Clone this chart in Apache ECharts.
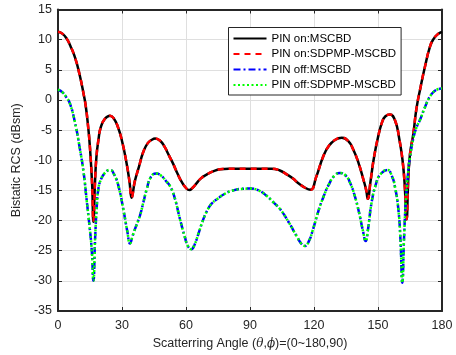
<!DOCTYPE html>
<html><head><meta charset="utf-8">
<script src="https://cdn.jsdelivr.net/npm/echarts@6/dist/echarts.min.js"></script>
<style>html,body{margin:0;padding:0;background:#fff}#c{width:456px;height:355px}</style>
</head><body><div id="c"></div>
<script>
// ---- data ----
const xTicks = [0, 30, 60, 90, 120, 150, 180];
const yTicks = [-35, -30, -25, -20, -15, -10, -5, 0, 5, 10, 15];

const onAngles = [0,2,4,6,8,10,12,13,14,15,16,16.6,17.3,18,19,20,22,24.4,26,28,30,32,33.5,34.5,36,38,40,42,44,45.5,48,50,52,54,56,58,60,61.6,63,65,67,70,73,76,80,90,100,104,107,110,113,116,118.4,121,124.4,127,130,133,136,138.5,141,143,144.5,145.2,146.5,148,150,152,153.5,155.6,158,160,161.5,162.5,163.4,164.2,165,166.6,168,170,172,174.4,176,178,180];
const pinOnMSCBD = [11.3,11.0,10.2,8.8,7.0,4.4,1.0,-1.0,-4.0,-8.0,-14,-20.2,-14,-9.5,-6.5,-4.6,-3.1,-2.6,-3.0,-4.4,-6.8,-10.2,-13.5,-16.2,-13.5,-11.0,-8.6,-7.2,-6.6,-6.4,-6.8,-7.8,-9.2,-10.6,-12.2,-13.6,-14.6,-14.95,-14.6,-13.8,-13.0,-12.3,-11.8,-11.5,-11.4,-11.4,-11.4,-11.7,-12.3,-13.0,-13.9,-14.6,-14.9,-12.8,-9.3,-7.6,-6.6,-6.25,-6.8,-8.3,-10.6,-13.0,-15.0,-16.4,-13.5,-9.8,-6.2,-3.6,-2.7,-2.4,-3.4,-6.5,-10,-14,-19.8,-13,-9,-5.5,-1.5,2.2,5.5,8.9,10.1,10.9,11.3];
const pinOnSDPMP = pinOnMSCBD.slice();

const offAngles = [0,2,4,5.6,8,10.3,12,13.4,14.8,15.8,16.6,17.4,18.2,18.9,20,22,24.4,26.5,28.5,30.6,32.5,33.75,35,36.5,38.4,40,41.6,43.5,46,48.5,50.5,52.5,54.5,57.2,59.5,61,62.5,64,66,68.1,70,72,74.4,78,82.2,86,90,94,97.8,101,104.1,108,111.9,114,115.8,117.5,119.5,122,124.5,127,129.5,132.2,135,137,139,141,143,144.2,145.3,147,149,151,154.4,156.5,158,159.5,160.5,161.4,162.2,163,164,165,166.6,168,169.7,172,174.4,177,180];
const pinOffMSCBD = [1.7,1.3,0.4,-0.6,-3.8,-8.2,-12,-16.5,-21,-24.8,-30,-23,-17.5,-14.8,-13.3,-12.1,-11.6,-12.5,-14.5,-18.1,-21.8,-23.8,-22.5,-21,-19.2,-17,-14.8,-12.8,-12.2,-12.6,-13.4,-14.3,-16,-19.8,-22.8,-24.3,-24.75,-24,-22,-19.8,-18.3,-17.2,-16.5,-15.6,-15.0,-14.75,-14.7,-15.0,-15.9,-17,-18.1,-20.2,-22.6,-23.8,-24.2,-23.5,-21.5,-18.5,-16,-14,-12.6,-12.1,-12.6,-13.8,-15.8,-18.5,-21.8,-23.4,-21.5,-17,-14,-12.4,-11.6,-12.6,-14.5,-18,-23,-30.3,-23,-17,-12.5,-9.5,-6.3,-4.6,-3.3,-1.2,0.6,1.6,1.9];
const pinOffSDPMP = pinOffMSCBD.slice();

const seriesNames = ['PIN on:MSCBD', 'PIN on:SDPMP-MSCBD', 'PIN off:MSCBD', 'PIN off:SDPMP-MSCBD'];

function pairs(xs, ys) { return xs.map((x, i) => [x, ys[i]]); }

const FONT = 'Liberation Sans, Arial, sans-serif';
const axisColor = '#262626';
const chart = echarts.init(document.getElementById('c'), null, {renderer: 'canvas'});

const baseX = {
  type: 'value', min: 0, max: 180, interval: 30,
  axisLine: {show: true, onZero: false, lineStyle: {color: axisColor, width: 2}},
  axisTick: {show: true, inside: true, length: 4, lineStyle: {color: axisColor, width: 1}},
  splitLine: {show: false}
};
const baseY = {
  type: 'value', min: -35, max: 15, interval: 5,
  axisLine: {show: true, onZero: false, lineStyle: {color: axisColor, width: 2}},
  axisTick: {show: true, inside: true, length: 4, lineStyle: {color: axisColor, width: 1}},
  splitLine: {show: false}
};

function mkSeries(name, xs, ys, color, type, width) {
  return {
    name, type: 'line', data: pairs(xs, ys), xAxisIndex: 0, yAxisIndex: 0,
    symbol: 'none', smooth: 0.5,
    lineStyle: {color, width, type},
    itemStyle: {color},
    animation: false
  };
}

chart.setOption({
  animation: false,
  backgroundColor: '#fff',
  grid: {left: 58, right: 14, top: 9.5, bottom: 43},
  legend: {
    orient: 'vertical', left: 228.5, top: 27.5,
    data: seriesNames,
    backgroundColor: '#fff', borderColor: axisColor, borderWidth: 1,
    padding: [4, 5, 3, 4],
    itemWidth: 33, itemHeight: 14, itemGap: 1.5,
    itemStyle: {opacity: 0},
    textStyle: {fontFamily: FONT, fontSize: 11.5, color: '#000', lineHeight: 14}
  },
  xAxis: [
    Object.assign({}, baseX, {
      position: 'bottom',
      splitLine: {show: true, lineStyle: {color: '#dfdfdf', width: 1}},
      axisLabel: {show: true, margin: 8, fontFamily: FONT, fontSize: 12.5, color: axisColor,
        formatter: v => xTicks.includes(v) ? String(v) : ''},
      name: 'Scatterring Angle ({i|θ},{i|ϕ})=(0~180,90)',
      nameLocation: 'middle', nameGap: 26,
      nameTextStyle: {fontFamily: FONT, fontSize: 12.5, color: axisColor,
        rich: {i: {fontFamily: 'DejaVu Serif', fontStyle: 'italic', fontSize: 12, color: axisColor}}}
    }),
    Object.assign({}, baseX, {position: 'top', axisLabel: {show: false}})
  ],
  yAxis: [
    Object.assign({}, baseY, {
      position: 'left',
      splitLine: {show: true, lineStyle: {color: '#dfdfdf', width: 1}},
      axisLabel: {show: true, margin: 6, fontFamily: FONT, fontSize: 12.5, color: axisColor,
        formatter: v => yTicks.includes(v) ? String(v) : ''},
      name: 'Bistatic RCS (dBsm)',
      nameLocation: 'middle', nameGap: 30,
      nameTextStyle: {fontFamily: FONT, fontSize: 12.5, color: axisColor}
    }),
    Object.assign({}, baseY, {position: 'right', axisLabel: {show: false}})
  ],
  series: [
    mkSeries(seriesNames[0], onAngles, pinOnMSCBD, '#000000', 'solid', 2.5),
    mkSeries(seriesNames[1], onAngles, pinOnSDPMP, '#ff0000', [6, 5], 2.5),
    mkSeries(seriesNames[2], offAngles, pinOffMSCBD, '#0000ff', [7, 3, 2, 3], 2.5),
    mkSeries(seriesNames[3], offAngles, pinOffSDPMP, '#00ff00', [2, 2.5], 2.5)
  ]
});
</script></body></html>
